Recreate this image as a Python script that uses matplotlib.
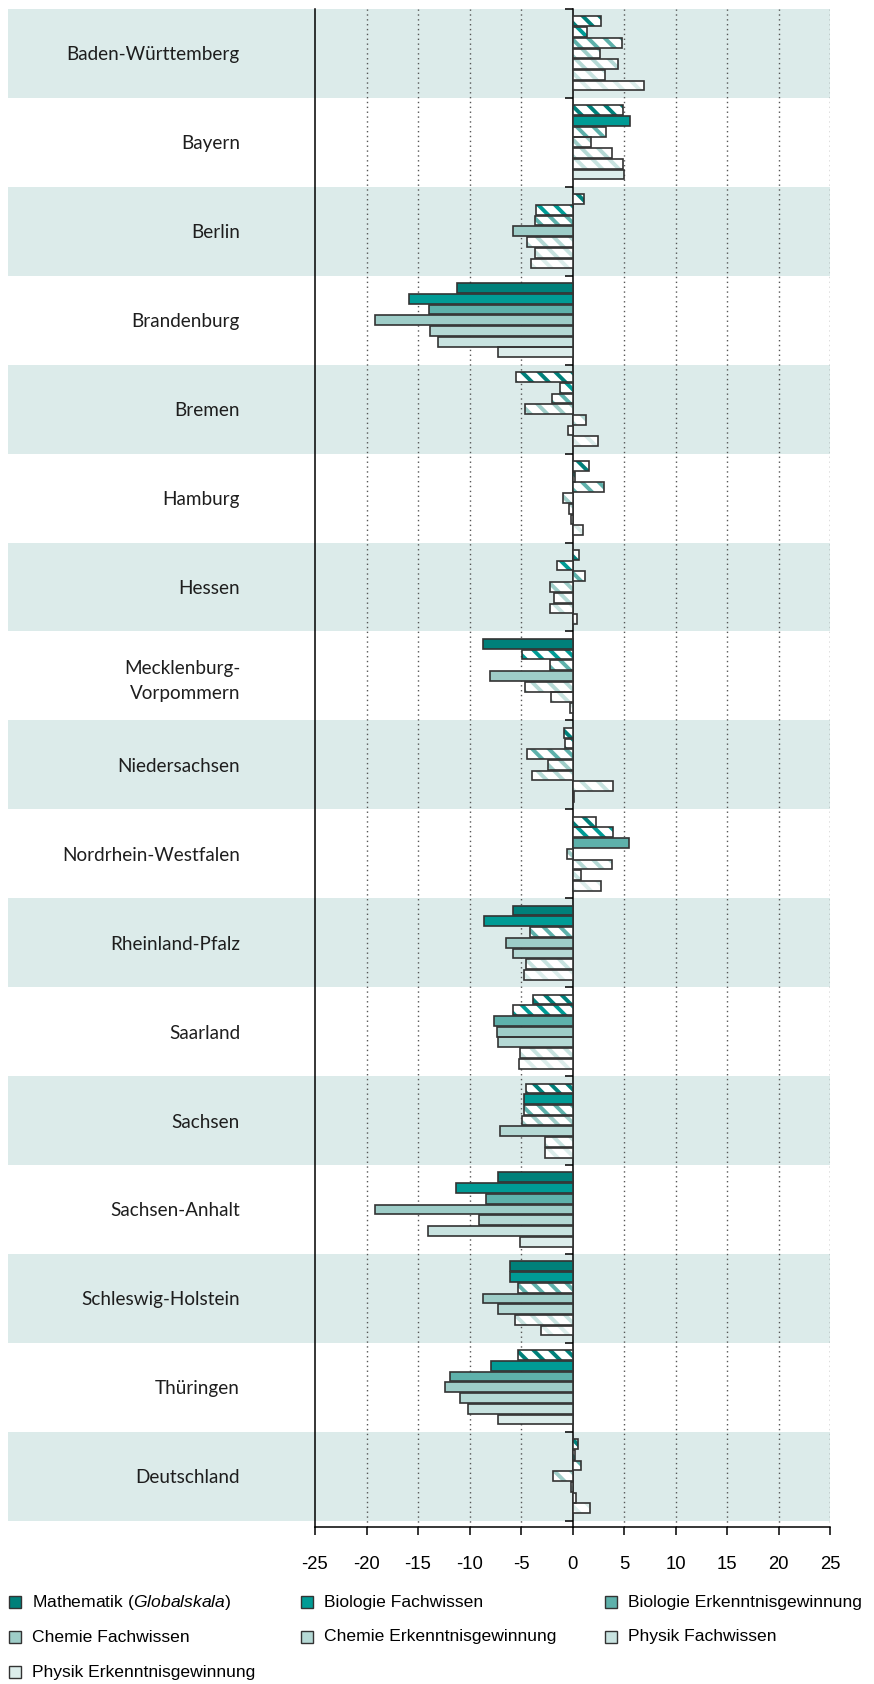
import numpy as np
import matplotlib.pyplot as plt
from matplotlib.patches import Rectangle

plt.rcParams['font.family'] = ['Liberation Sans', 'DejaVu Sans']
plt.rcParams['mathtext.fontset'] = 'custom'
plt.rcParams['mathtext.rm'] = 'Liberation Sans'
plt.rcParams['mathtext.it'] = 'Liberation Sans:italic'
plt.rcParams['hatch.linewidth'] = 2.8

laender = ["Baden-Württemberg", "Bayern", "Berlin", "Brandenburg", "Bremen", "Hamburg",
           "Hessen", "Mecklenburg-\nVorpommern", "Niedersachsen", "Nordrhein-Westfalen",
           "Rheinland-Pfalz", "Saarland", "Sachsen", "Sachsen-Anhalt", "Schleswig-Holstein",
           "Thüringen", "Deutschland"]

serien = ["Mathematik ($\\mathit{Globalskala}$)", "Biologie Fachwissen", "Biologie Erkenntnisgewinnung",
          "Chemie Fachwissen", "Chemie Erkenntnisgewinnung", "Physik Fachwissen",
          "Physik Erkenntnisgewinnung"]
farben = ["#00807a", "#009b95", "#5eb1ab", "#9ecdc8", "#b5d9d5", "#c8e3e0", "#dcedeb"]

# Differenzen je Land
mathe    = [2.8, 4.9, 1.1, -11.2, -5.5, 1.6, 0.6, -8.7, -0.8, 2.3, -5.8, -3.8, -4.5, -7.2, -6.1, -5.3, 0.5]
bio_fw   = [1.4, 5.6, -3.5, -15.9, -1.2, 0.2, -1.5, -4.9, -0.7, 3.9, -8.6, -5.8, -4.7, -11.3, -6.1, -7.9, 0.2]
bio_eg   = [4.8, 3.3, -3.6, -13.9, -2.0, 3.1, 1.2, -2.2, -4.4, 5.5, -4.1, -7.6, -4.7, -8.4, -5.3, -11.9, 0.8]
chem_fw  = [2.7, 1.8, -5.8, -19.2, -4.6, -0.9, -2.2, -8.0, -2.4, -0.5, -6.5, -7.3, -4.9, -19.2, -8.7, -12.4, -1.9]
chem_eg  = [4.4, 3.8, -4.4, -13.8, 1.3, -0.3, -1.8, -4.6, -3.9, 3.8, -5.8, -7.2, -7.0, -9.1, -7.2, -10.9, -0.1]
phys_fw  = [3.2, 4.9, -3.6, -13.1, -0.4, -0.1, -2.2, -2.1, 3.9, 0.8, -4.5, -5.1, -2.7, -14.0, -5.6, -10.1, 0.3]
phys_eg  = [6.9, 5.0, -4.0, -7.2, 2.5, 1.0, 0.4, -0.2, 0.1, 2.8, -4.7, -5.2, -2.7, -5.1, -3.1, -7.2, 1.7]

# 1 = signifikant (volle Flaeche), 0 = nicht signifikant (schraffiert)
sig_mathe   = [0, 0, 0, 1, 0, 0, 0, 1, 0, 0, 1, 0, 0, 1, 1, 0, 0]
sig_bio_fw  = [0, 1, 0, 1, 0, 0, 0, 0, 0, 0, 1, 0, 1, 1, 1, 1, 0]
sig_bio_eg  = [0, 0, 0, 1, 0, 0, 0, 0, 0, 1, 0, 1, 0, 1, 0, 1, 0]
sig_chem_fw = [0, 0, 1, 1, 0, 0, 0, 1, 0, 0, 1, 1, 0, 1, 1, 1, 0]
sig_chem_eg = [0, 0, 0, 1, 0, 0, 0, 0, 0, 0, 1, 1, 1, 1, 1, 1, 0]
sig_phys_fw = [0, 0, 0, 1, 0, 0, 0, 0, 0, 0, 0, 0, 0, 1, 0, 1, 0]
sig_phys_eg = [0, 1, 0, 1, 0, 0, 0, 0, 0, 0, 0, 0, 0, 1, 0, 1, 0]

werte = [mathe, bio_fw, bio_eg, chem_fw, chem_eg, phys_fw, phys_eg]
sigs = [sig_mathe, sig_bio_fw, sig_bio_eg, sig_chem_fw, sig_chem_eg, sig_phys_fw, sig_phys_eg]

W, H = 874, 1684
fig = plt.figure(figsize=(W / 100, H / 100), dpi=100)
ax_l, ax_r, ax_t, ax_b = 315, 830, 9, 1527
ax = fig.add_axes([ax_l / W, 1 - ax_b / H, (ax_r - ax_l) / W, (ax_b - ax_t) / H])

n = len(laender)
pos = np.arange(n)
grp_px = (1520.7 - 9) / n
ax.set_xlim(-25, 25)
ax.set_ylim(n - 0.5 + (ax_b - 1520.7) / grp_px, -0.5)

# Baender
band_x0 = (8 - ax_l) / (ax_r - ax_l)
for i in range(0, n, 2):
    ax.axhspan(i - 0.5, i + 0.5, xmin=band_x0, xmax=1, color="#dcebea", lw=0, zorder=0, clip_on=False)

for g in range(-20, 30, 5):
    if g != 0:
        ax.axvline(g, color="#555555", lw=1.0, ls=(0, (1, 2.5)), zorder=1)

step = 0.1205
h = 0.11
for k in range(7):
    v = np.array(werte[k])
    s = np.array(sigs[k]).astype(bool)
    y = pos + (k - 3) * step
    ax.barh(y[s], v[s], height=h, color=farben[k], linewidth=0, zorder=2)
    ax.barh(y[~s], v[~s], height=h, color="white", edgecolor=farben[k], linewidth=0,
            hatch="\\\\", zorder=2)
    ax.barh(y, v, height=h, fill=False, edgecolor="#333333", linewidth=1.2, zorder=3)

for sp in ["top", "right"]:
    ax.spines[sp].set_visible(False)
ax.spines["left"].set_linewidth(1.1)
ax.spines["bottom"].set_linewidth(1.1)

ax.set_xticks(range(-25, 30, 5))
ax.set_xticklabels([str(t) for t in range(-25, 30, 5)])
ax.tick_params(axis="x", direction="out", length=6, width=1.1, pad=15, labelsize=13.3)

ax.set_yticks(pos)
ax.set_yticklabels(laender, fontfamily="Lato", fontsize=13.6, color="#1e1e1e")
ax.tick_params(axis="y", length=0, pad=54)
for lab in ax.get_yticklabels():
    lab.set_multialignment("right")
    lab.set_linespacing(1.55)

# Achse bei 0 mit Gruppenstrichen
sec = ax.secondary_yaxis(0.5)
sec.set_yticks(np.arange(n + 1) - 0.5)
sec.tick_params(axis="y", direction="out", length=6, width=1.1, labelleft=False, labelright=False,
                left=True, right=False)
for sp in sec.spines.values():
    sp.set_linewidth(1.1)

# Legende
leg_rows = [1602, 1637, 1672]
leg_cols = [32, 324, 628]
for k, name in enumerate(serien):
    r, c = divmod(k, 3)
    yy = leg_rows[r]
    xx = leg_cols[c]
    fig.add_artist(Rectangle(((xx - 23) / W, 1 - (yy + 6) / H), 12 / W, 12 / H,
                             facecolor=farben[k], edgecolor="#333333", lw=1.0,
                             transform=fig.transFigure))
    fig.text(xx / W, 1 - yy / H, name, fontsize=12.6, va="center", ha="left")

fig.savefig("out.png", dpi=100)
